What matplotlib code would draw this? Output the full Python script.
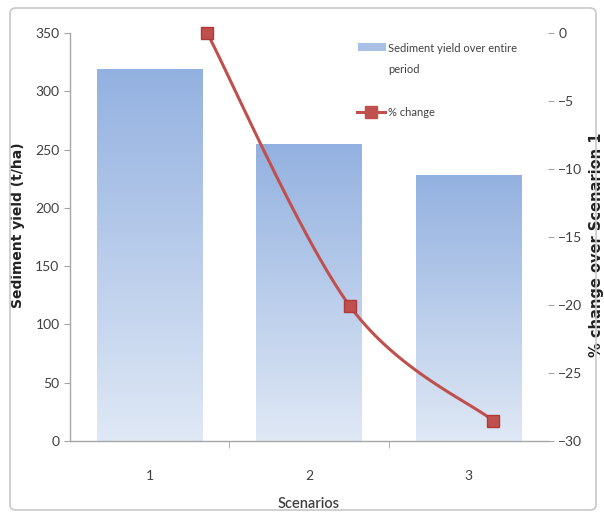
import matplotlib
matplotlib.use("Agg")
import matplotlib.pyplot as plt
import numpy as np
from matplotlib.patches import FancyBboxPatch, Rectangle
from matplotlib.lines import Line2D
from matplotlib.colors import LinearSegmentedColormap

plt.rcParams['font.family'] = ['Lato', 'DejaVu Sans']

scenarios = [1, 2, 3]
sediment_yield = [319, 255, 228]
pct_change = [0, -20.1, -28.5]

GRAY = '#a6a6a6'
TXT = '#404040'
RED = '#c0504d'

fig = plt.figure(figsize=(6.04, 5.18), dpi=100)
L, R, B, T = 70 / 604, 548 / 604, 1 - 441 / 518, 1 - 33 / 518
ax = fig.add_axes([L, B, R - L, T - B])

# chart area frame
fig.patches.append(FancyBboxPatch((10 / 604, 8 / 518), 586 / 604, 502 / 518,
                                  boxstyle='round,pad=0,rounding_size=0.01',
                                  transform=fig.transFigure, fc='none',
                                  ec='#c8c8c8', lw=1.2))

# bars with vertical gradient fill
grad = LinearSegmentedColormap.from_list('g', ['#dfe8f5', '#93b1e0'])
width = 0.66
for x, h in zip(scenarios, sediment_yield):
    rect = Rectangle((x - width / 2, 0), width, h, fc='none', ec='none')
    ax.add_patch(rect)
    img = ax.imshow(np.linspace(0, 1, 256).reshape(-1, 1), cmap=grad,
                    origin='lower', aspect='auto',
                    extent=(x - width / 2, x + width / 2, 0, h), zorder=1)
    img.set_clip_path(rect)
ax.set_xlim(0.5, 3.5)
ax.set_ylim(0, 350)

for s in ['top', 'right']:
    ax.spines[s].set_visible(False)
for s in ['left', 'bottom']:
    ax.spines[s].set_color(GRAY)
    ax.spines[s].set_linewidth(1.0)
ax.set_yticks(np.arange(0, 351, 50))
ax.set_xticks([1.5, 2.5], minor=True)
ax.set_xticks(scenarios)
ax.tick_params(axis='y', colors=GRAY, labelcolor=TXT, labelsize=10, length=4)
ax.tick_params(axis='x', which='major', length=0, labelcolor=TXT, labelsize=10, pad=21)
ax.tick_params(axis='x', which='minor', colors=GRAY, length=5, direction='out')
ax.set_xlabel('Scenarios', fontsize=10.5, color=TXT, fontweight='semibold')
ax.xaxis.set_label_coords(0.5, -0.137)
ax.set_ylabel('Sediment yield (t/ha)', fontsize=10, fontweight='bold',
              color='#222222', family='DejaVu Sans')
ax.yaxis.set_label_coords(-0.094, 0.53)

# secondary axes for the % change line
ax2 = fig.add_axes(ax.get_position(), frameon=False)
ax2.patch.set_visible(False)
ax2.set_xlim(0.04, 3.385)
ax2.set_ylim(-30, 0)
ax2.xaxis.set_visible(False)
ax2.yaxis.tick_right()
ax2.yaxis.set_label_position('right')
ax2.spines['right'].set_visible(True)
ax2.spines['right'].set_color(GRAY)
ax2.set_yticks(np.arange(-30, 1, 5))
ax2.tick_params(axis='y', colors=GRAY, labelcolor=TXT, labelsize=10, length=4)
ax2.set_ylabel('% change over Scenarion 1', fontsize=10.5, fontweight='bold',
               color='#222222', family='DejaVu Sans', rotation=90)
ax2.yaxis.set_label_coords(1.085, 0.48)

# smoothed line through the points (cubic Bezier, Excel-style)
fig.canvas.draw()
pts = ax2.transData.transform(np.column_stack([scenarios, pct_change]))
P = np.vstack([pts[0], pts, pts[-1]])
curve = []
t = np.linspace(0, 1, 40)[:, None]
for i in range(1, len(P) - 2):
    p0, p3 = P[i], P[i + 1]
    c1 = p0 + (P[i + 1] - P[i - 1]) / 6
    c2 = p3 - (P[i + 2] - P[i]) / 6
    curve.append((1 - t) ** 3 * p0 + 3 * (1 - t) ** 2 * t * c1
                 + 3 * (1 - t) * t ** 2 * c2 + t ** 3 * p3)
curve = ax2.transData.inverted().transform(np.vstack(curve))
ax2.plot(curve[:, 0], curve[:, 1], color=RED, lw=2.2, clip_on=False, zorder=3)
ax2.plot(scenarios, pct_change, ls='none', marker='s', ms=8, mfc=RED,
         mec='#b03a37', clip_on=False, zorder=4)

# legend
fig.patches.append(Rectangle((358 / 604, 1 - 51 / 518), 28 / 604, 8 / 518,
                             transform=fig.transFigure, fc='#a9c0e6', ec='none'))
fig.text(388 / 604, 1 - 59 / 518, 'Sediment yield over entire\nperiod',
         fontsize=8, color=TXT, va='center', ha='left', linespacing=2.2,
         transform=fig.transFigure)
fig.add_artist(Line2D([357 / 604, 385 / 604], [1 - 112 / 518] * 2, color=RED, lw=2.2,
                      transform=fig.transFigure))
fig.add_artist(Line2D([371 / 604], [1 - 112 / 518], color=RED, marker='s', ms=8,
                      transform=fig.transFigure))
fig.text(388 / 604, 1 - 112 / 518, '% change', fontsize=8, color=TXT,
         va='center', ha='left', transform=fig.transFigure)

fig.savefig('out.png', dpi=100)
